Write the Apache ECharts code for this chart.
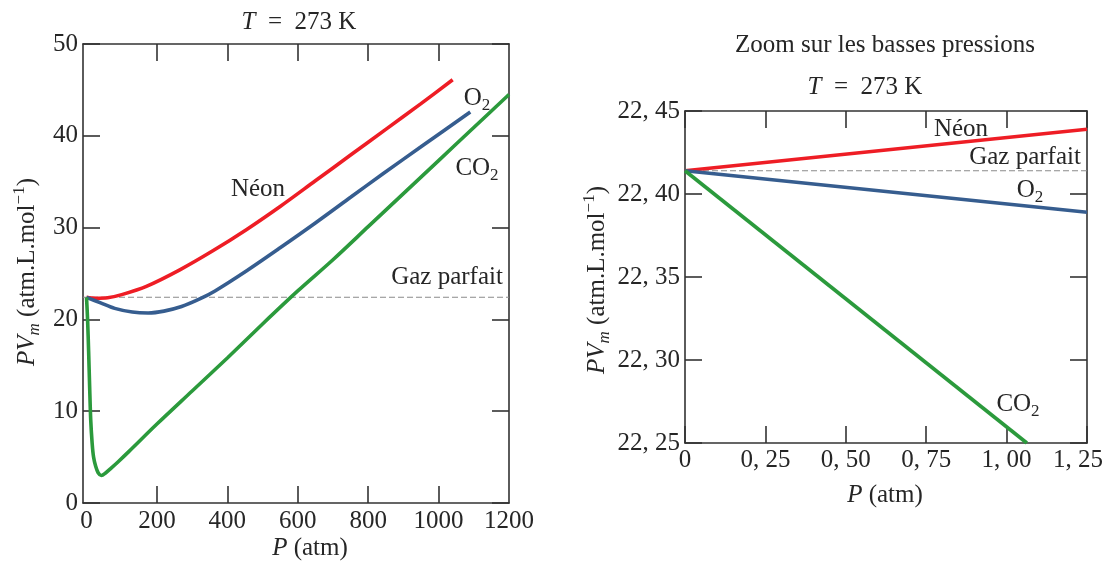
<!DOCTYPE html>
<html>
<head>
<meta charset="utf-8">
<script src="https://cdn.jsdelivr.net/npm/echarts@6/dist/echarts.min.js"></script>
<style>
  html, body { margin: 0; padding: 0; background: #fff; }
  #chart { width: 1105px; height: 567px; }
</style>
</head>
<body>
<div id="chart"></div>
<script>
// grand graphe : P (atm) -> PV_m
const neonP  = [0, 25, 60, 100, 170, 265, 360, 455, 550, 650, 750, 850, 950, 1040];
const neonPV = [22.4, 22.3, 22.35, 22.7, 23.6, 25.4, 27.5, 29.8, 32.3, 35.1, 37.9, 40.7, 43.5, 46.1];

const o2P  = [0, 40, 80, 130, 175, 220, 270, 320, 365, 455, 550, 650, 750, 843, 950, 1090];
const o2PV = [22.4, 21.8, 21.2, 20.8, 20.7, 20.9, 21.4, 22.2, 23.1, 25.3, 27.8, 30.5, 33.3, 35.9, 38.8, 42.6];

const co2P  = [0, 3, 6, 9, 12, 16, 20, 26, 33, 42, 55, 70, 90, 120, 200, 300, 400, 500, 600, 700, 800, 900, 1000, 1100, 1200];
const co2PV = [22.4, 20, 16.5, 12.5, 9, 6.5, 5, 4, 3.3, 3.0, 3.3, 3.8, 4.5, 5.6, 8.6, 12.2, 15.8, 19.5, 23.1, 26.5, 30.1, 33.7, 37.3, 40.9, 44.5];

const idealP  = [-10, 1200];
const idealPV = [22.414, 22.414];

const xTicksBig = [200, 400, 600, 800, 1000];
const xLabelsBig = [0, 200, 400, 600, 800, 1000, 1200];

// zoom basses pressions
const zoomP = [0, 1.25];
const neonZoom = [22.414, 22.439];
const o2Zoom = [22.414, 22.389];
const co2ZoomP = [0, 1.063];
const co2Zoom = [22.414, 22.25];
const idealZoom = [22.414, 22.414];

const pairs = (xs, ys) => xs.map((x, i) => [x, ys[i]]);

const FONT = 'Liberation Serif';
const FS = 25;
const TXT = '#262626';
const AX = '#333';
const RED = '#ee1d25';
const BLUE = '#365d8f';
const GREEN = '#2b9a3c';

const richBase = {
  i: { fontStyle: 'italic', fontFamily: FONT, fontSize: FS, fill: TXT, lineHeight: 32 },
  n: { fontFamily: FONT, fontSize: FS, fill: TXT, lineHeight: 32 },
  sub: { fontFamily: FONT, fontSize: 17, fill: TXT, verticalAlign: 'bottom', lineHeight: 17 },
  subi: { fontFamily: FONT, fontStyle: 'italic', fontSize: 17, fill: TXT, verticalAlign: 'bottom', lineHeight: 17 },
  sup: { fontFamily: FONT, fontSize: 17, fill: TXT, verticalAlign: 'top', lineHeight: 17 }
};

function label(x, y, text, rot) {
  return {
    type: 'text', x: x, y: y, rotation: rot || 0,
    style: {
      text: text, rich: richBase, fontFamily: FONT, fontSize: FS, fill: TXT,
      align: 'center', verticalAlign: 'middle'
    }
  };
}

function frameAxis(extra) {
  return Object.assign({
    type: 'value',
    axisLine: { show: true, onZero: false, lineStyle: { color: AX, width: 1.6 } },
    axisTick: { show: true, inside: true, length: 17, lineStyle: { color: AX, width: 1.6 } },
    axisLabel: { show: false },
    splitLine: { show: false }
  }, extra);
}

const tickLabel = { show: true, fontFamily: FONT, fontSize: FS, color: TXT };

const zoomFmt = v => (Math.abs(v) < 1e-9 ? '0' : v.toFixed(2).replace('.', ', '));
// le dernier label est décalé vers la gauche pour rester dans le cadre
const zoomFmtX = v => (v >= 1.25 - 1e-9 ? '{last|' + zoomFmt(v) + '}' : zoomFmt(v));

const chart = echarts.init(document.getElementById('chart'));

chart.setOption({
  animation: false,
  grid: [
    { left: 83, top: 44, width: 426, height: 459, outerBoundsMode: 'none' },
    { left: 685, top: 111, width: 402, height: 332, outerBoundsMode: 'none' }
  ],
  xAxis: [
    frameAxis({
      gridIndex: 0, position: 'bottom', min: -10, max: 1200,
      axisTick: { show: true, inside: true, length: 17, customValues: xTicksBig, lineStyle: { color: AX, width: 1.6 } },
      axisLabel: Object.assign({ customValues: xLabelsBig, margin: 6, formatter: v => String(v) }, tickLabel)
    }),
    frameAxis({
      gridIndex: 0, position: 'top', min: -10, max: 1200,
      axisTick: { show: true, inside: true, length: 17, customValues: xTicksBig, lineStyle: { color: AX, width: 1.6 } }
    }),
    frameAxis({
      gridIndex: 1, position: 'bottom', min: 0, max: 1.25, interval: 0.25,
      axisLabel: Object.assign({
        margin: 5, formatter: zoomFmtX,
        rich: { last: { fontFamily: FONT, fontSize: FS, color: TXT, padding: [0, 18, 0, 0] } }
      }, tickLabel)
    }),
    frameAxis({ gridIndex: 1, position: 'top', min: 0, max: 1.25, interval: 0.25 })
  ],
  yAxis: [
    frameAxis({
      gridIndex: 0, position: 'left', min: 0, max: 50, interval: 10,
      axisLabel: Object.assign({ margin: 5 }, tickLabel)
    }),
    frameAxis({ gridIndex: 0, position: 'right', min: 0, max: 50, interval: 10 }),
    frameAxis({
      gridIndex: 1, position: 'left', min: 22.25, max: 22.45, interval: 0.05,
      axisLabel: Object.assign({ margin: 5, formatter: zoomFmt }, tickLabel)
    }),
    frameAxis({ gridIndex: 1, position: 'right', min: 22.25, max: 22.45, interval: 0.05 })
  ],
  series: [
    {
      type: 'line', xAxisIndex: 0, yAxisIndex: 0, data: pairs(idealP, idealPV),
      showSymbol: false, lineStyle: { color: '#8a8a8a', width: 1.2, type: [6, 3] }
    },
    {
      type: 'line', xAxisIndex: 0, yAxisIndex: 0, data: pairs(neonP, neonPV),
      showSymbol: false, smooth: 0.3, lineStyle: { color: RED, width: 3.6 }
    },
    {
      type: 'line', xAxisIndex: 0, yAxisIndex: 0, data: pairs(o2P, o2PV),
      showSymbol: false, smooth: 0.3, lineStyle: { color: BLUE, width: 3.6 }
    },
    {
      type: 'line', xAxisIndex: 0, yAxisIndex: 0, data: pairs(co2P, co2PV),
      showSymbol: false, smooth: 0.3, lineStyle: { color: GREEN, width: 3.6 }
    },
    {
      type: 'line', xAxisIndex: 2, yAxisIndex: 2, data: pairs(zoomP, idealZoom),
      showSymbol: false, lineStyle: { color: '#8a8a8a', width: 1.2, type: [6, 3] }
    },
    {
      type: 'line', xAxisIndex: 2, yAxisIndex: 2, data: pairs(zoomP, neonZoom),
      showSymbol: false, lineStyle: { color: RED, width: 3.6 }
    },
    {
      type: 'line', xAxisIndex: 2, yAxisIndex: 2, data: pairs(zoomP, o2Zoom),
      showSymbol: false, lineStyle: { color: BLUE, width: 3.6 }
    },
    {
      type: 'line', xAxisIndex: 2, yAxisIndex: 2, data: pairs(co2ZoomP, co2Zoom),
      showSymbol: false, lineStyle: { color: GREEN, width: 3.6 }
    }
  ],
  graphic: [
    // graphe de gauche
    label(299, 22, '{i|T}{n|\u2002=\u2002273 K}'),
    label(258, 189, 'Néon'),
    label(477, 98, '{n|O}{sub|2}'),
    label(477, 168, '{n|CO}{sub|2}'),
    label(447, 277, 'Gaz parfait'),
    label(310, 548, '{i|P}{n| (atm)}'),
    label(27, 272, '{i|PV}{subi|m}{n| (atm.L.mol}{sup|−1}{n|)}', Math.PI / 2),
    // zoom
    label(885, 45, 'Zoom sur les basses pressions'),
    label(865, 87, '{i|T}{n|\u2002=\u2002273 K}'),
    label(961, 129, 'Néon'),
    label(1025, 157, 'Gaz parfait'),
    label(1030, 190, '{n|O}{sub|2}'),
    label(1018, 404, '{n|CO}{sub|2}'),
    label(885, 495, '{i|P}{n| (atm)}'),
    label(597, 280, '{i|PV}{subi|m}{n| (atm.L.mol}{sup|−1}{n|)}', Math.PI / 2)
  ]
});
</script>
</body>
</html>
